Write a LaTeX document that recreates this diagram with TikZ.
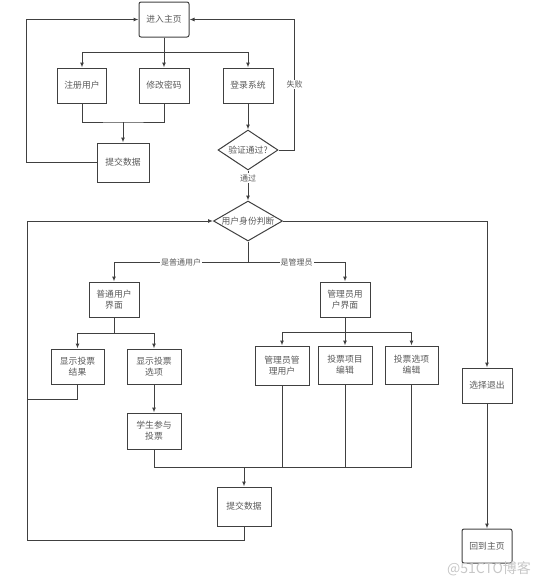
\documentclass[tikz,border=0pt]{standalone}
\usepackage{fontspec}
\setmainfont{Noto Sans CJK SC}
\usetikzlibrary{arrows.meta,shapes.geometric}

\begin{document}
\begin{tikzpicture}[
    x=1pt, y=-1pt,
    font=\fontsize{8.8}{11}\selectfont,
    every node/.append style={text=black!65},
    box/.style={draw=black!75, line width=1pt, minimum width=50pt, minimum height=35pt, inner sep=1pt, align=center},
    home/.style={box, rounded corners=2pt},
    decide/.style={draw=black!75, line width=1pt, diamond, inner sep=0pt},
    lbl/.style={fill=white, inner sep=1pt, font=\fontsize{8}{9}\selectfont},
    line/.style={draw=black!75, line width=1pt},
    arr/.style={line, -{Latex[length=5pt,width=4pt]}}
  ]
  \useasboundingbox (0,0) rectangle (541,587);

  \node[home] (main) at (164,19.5) {进入主页};
  \node[box, minimum width=49pt] (reg) at (82,85.5) {注册用户};
  \node[box] (pwd) at (164,85.5) {修改密码};
  \node[box] (login) at (248,85.5) {登录系统};
  \node[box, minimum width=52pt, minimum height=39pt] (submitA) at (123,162.5) {提交数据};
  \node[decide, minimum width=60pt, minimum height=40pt, label={center:验证通过?}] (check) at (248,150) {};
  \node[decide, minimum width=69pt, minimum height=40pt, label={center:用户身份判断}] (role) at (248,221) {};

  \node[box] (normal) at (114,299.5) {普通用户\\界面};
  \node[box] (admin) at (345,299.5) {管理员用\\户界面};
  \node[box, minimum width=53pt] (result) at (77.5,366.5) {显示投票\\结果};
  \node[box, minimum width=54pt] (options) at (154,366.5) {显示投票\\选项};
  \node[box, minimum width=54pt, minimum height=36pt] (vote) at (154,431) {学生参与\\投票};
  \node[box, minimum width=54pt, minimum height=39pt] (mgr) at (282,365.5) {管理员管\\理用户};
  \node[box, minimum width=54pt, minimum height=38pt] (item) at (345,365) {投票项目\\编辑};
  \node[box, minimum width=53pt, minimum height=38pt] (optedit) at (411.5,365) {投票选项\\编辑};
  \node[box] (quit) at (487,385.5) {选择退出};
  \node[box, minimum width=54pt, minimum height=39pt] (submitB) at (244,506.5) {提交数据};
  \node[home, minimum height=34pt] (back) at (487,546) {回到主页};

  \coordinate (joinA) at (123,122);
  \coordinate (joinB) at (244,467);
  \coordinate (loop) at (27,540);

  \draw[arr] (main.south) -- ++(0,15) -| (reg.north);
  \draw[arr] (main.south) -- (pwd.north);
  \draw[arr] (main.south) -- ++(0,15) -| (login.north);
  \draw[line] (reg.south) |- (joinA) -| (pwd.south);
  \draw[arr] (joinA) -- (submitA.north);
  \draw[arr] (submitA.west) -- ++(-70,0) |- (main.west);

  \draw[arr] (login.south) -- (check.north);
  \draw[arr] (check.east) -- ++(16,0) |- (main.east) node[lbl, pos=0.25] {失败};
  \draw[arr] (check.south) -- (role.north) node[lbl, pos=0.25] {通过};

  \draw[arr] (role.south) -- ++(0,21) -| (normal.north) node[lbl, pos=0.25] {是普通用户};
  \draw[arr] (role.south) -- ++(0,21) -| (admin.north) node[lbl, pos=0.25] {是管理员};
  \draw[arr] (role.east) -| (quit.north);
  \draw[arr] (quit.south) -- (back.north);

  \draw[arr] (normal.south) -- ++(0,16) -| (result.north);
  \draw[arr] (normal.south) -- ++(0,16) -| (options.north);
  \draw[line] (result.south) -- ++(0,15) -| (loop);
  \draw[arr] (options.south) -- (vote.north);

  \draw[arr] (admin.south) -- ++(0,15) -| (mgr.north);
  \draw[arr] (admin.south) -- (item.north);
  \draw[arr] (admin.south) -- ++(0,15) -| (optedit.north);

  \draw[line] (vote.south) |- (joinB);
  \draw[line] (mgr.south) |- (joinB);
  \draw[line] (item.south) |- (joinB);
  \draw[line] (optedit.south) |- (joinB);
  \draw[arr] (joinB) -- (submitB.north);
  \draw[arr] (submitB.south) |- (loop) |- (role.west);

  \node[text=black!22, font=\fontsize{14}{16}\selectfont] (mark) at (489,569) {@51CTO博客};
\end{tikzpicture}
\end{document}
